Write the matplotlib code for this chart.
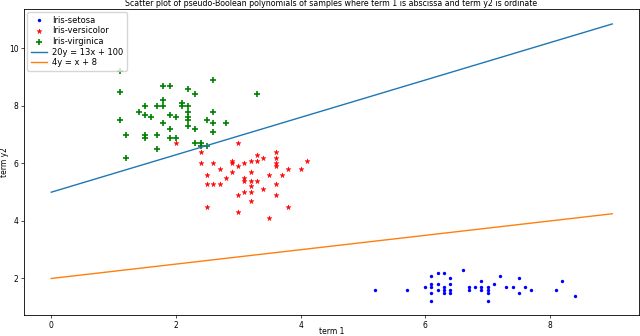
import numpy as np
import matplotlib
matplotlib.use("Agg")
import matplotlib.pyplot as plt

setosa_x = [5.2, 5.7, 6.0, 6.1, 6.1, 6.1, 6.1, 6.1, 6.2, 6.2, 6.2, 6.3, 6.3, 6.3, 6.3,
            6.4, 6.4, 6.4, 6.4, 6.6, 6.7, 6.7, 6.8, 6.9, 6.9, 6.9, 7.0, 7.0, 7.0, 7.0,
            7.1, 7.2, 7.3, 7.4, 7.5, 7.5, 7.6, 7.7, 8.1, 8.2, 8.4]
setosa_y = [1.6, 1.6, 1.7, 2.1, 1.8, 1.7, 1.5, 1.2, 2.2, 1.8, 1.6, 2.2, 1.7, 1.6, 1.5,
            2.0, 1.8, 1.6, 1.5, 2.3, 1.7, 1.6, 1.7, 1.9, 1.7, 1.6, 1.7, 1.6, 1.5, 1.2,
            1.8, 2.1, 1.7, 1.7, 2.0, 1.5, 1.7, 1.6, 1.6, 1.9, 1.4]

versicolor_x = [2.0, 3.0, 2.4, 3.6, 3.3, 2.9, 2.9, 3.2, 3.3, 3.4, 3.6, 3.6, 3.6, 4.1,
                2.4, 2.6, 3.0, 3.1, 2.7, 3.2, 3.8, 4.0, 2.9, 2.5, 3.5, 3.7, 2.8, 3.1,
                3.1, 3.2, 3.3, 2.5, 2.6, 2.7, 3.6, 3.2, 3.4, 3.1, 3.2, 3.0, 3.6, 3.2,
                2.5, 3.8, 3.0, 3.5]
versicolor_y = [6.7, 6.7, 6.4, 6.4, 6.3, 6.1, 6.0, 6.1, 6.1, 6.2, 6.2, 6.0, 5.9, 6.1,
                6.0, 6.0, 5.9, 6.0, 5.8, 5.7, 5.8, 5.8, 5.7, 5.6, 5.6, 5.6, 5.5, 5.5,
                5.4, 5.4, 5.4, 5.3, 5.3, 5.3, 5.3, 5.2, 5.1, 5.0, 5.0, 4.9, 4.9, 4.7,
                4.5, 4.5, 4.3, 4.1]

virginica_x = [1.1, 1.1, 1.1, 1.8, 1.9, 1.8, 1.8, 1.7, 1.5, 2.1, 2.1, 1.4, 1.5, 1.6,
               1.9, 2.0, 1.8, 1.9, 1.2, 1.5, 1.5, 1.7, 1.9, 2.0, 1.7, 1.2, 2.6, 2.2,
               2.3, 3.3, 2.2, 2.2, 2.2, 2.2, 2.2, 2.3, 2.6, 2.5, 2.6, 2.8, 2.6, 2.3,
               2.4, 2.4, 2.5]
virginica_y = [9.2, 8.5, 7.5, 8.7, 8.7, 8.2, 8.0, 8.0, 8.0, 8.1, 8.0, 7.8, 7.7, 7.6,
               7.7, 7.6, 7.4, 7.2, 7.0, 7.0, 6.9, 7.0, 6.9, 6.9, 6.5, 6.2, 8.9, 8.6,
               8.4, 8.4, 8.0, 7.8, 7.6, 7.5, 7.3, 7.2, 7.8, 7.5, 7.4, 7.4, 7.1, 6.7,
               6.7, 6.6, 6.6]

line_x = np.array([0.0, 9.0])
labels = ["Iris-setosa", "Iris-versicolor", "Iris-virginica",
          "20y = 13x + 100", "4y = x + 8"]

fs = 5.5
fig = plt.figure(figsize=(6.4, 3.36), dpi=100)
ax = fig.add_axes([0.0375, 0.0625, 0.961, 0.9107])

ax.scatter(setosa_x, setosa_y, s=6, c="blue", marker="o", linewidths=0, label=labels[0])
ax.scatter(versicolor_x, versicolor_y, s=14, c="red", marker="*", linewidths=0.3,
           label=labels[1])
ax.scatter(virginica_x, virginica_y, s=16, c="green", marker="+", linewidths=1.2,
           label=labels[2])
ax.plot(line_x, (13 * line_x + 100) / 20, color="C0", lw=1.0, label=labels[3])
ax.plot(line_x, (line_x + 8) / 4, color="C1", lw=1.0, label=labels[4])

ax.set_xlim(-0.437, 9.43)
ax.set_ylim(0.73, 11.37)
ax.set_xticks([0, 2, 4, 6, 8])
ax.set_yticks([2, 4, 6, 8, 10])
ax.tick_params(labelsize=fs, length=2, width=0.5, pad=2)
for sp in ax.spines.values():
    sp.set_linewidth(0.6)

ax.set_title("Scatter plot of pseudo-Boolean polynomials of samples where term 1 is abscissa and term y2 is ordinate",
             fontsize=5.7, pad=2)
ax.set_xlabel("term 1", fontsize=fs)
ax.set_ylabel("term y2", fontsize=fs)
ax.xaxis.set_label_coords(0.5, -0.04)
ax.yaxis.set_label_coords(-0.024, 0.5)
ax.legend(loc="upper left", fontsize=6, handlelength=2.0, handletextpad=0.6,
          borderpad=0.4, labelspacing=0.2, borderaxespad=0.4, framealpha=0.8)

fig.savefig("out.png", dpi=100)
